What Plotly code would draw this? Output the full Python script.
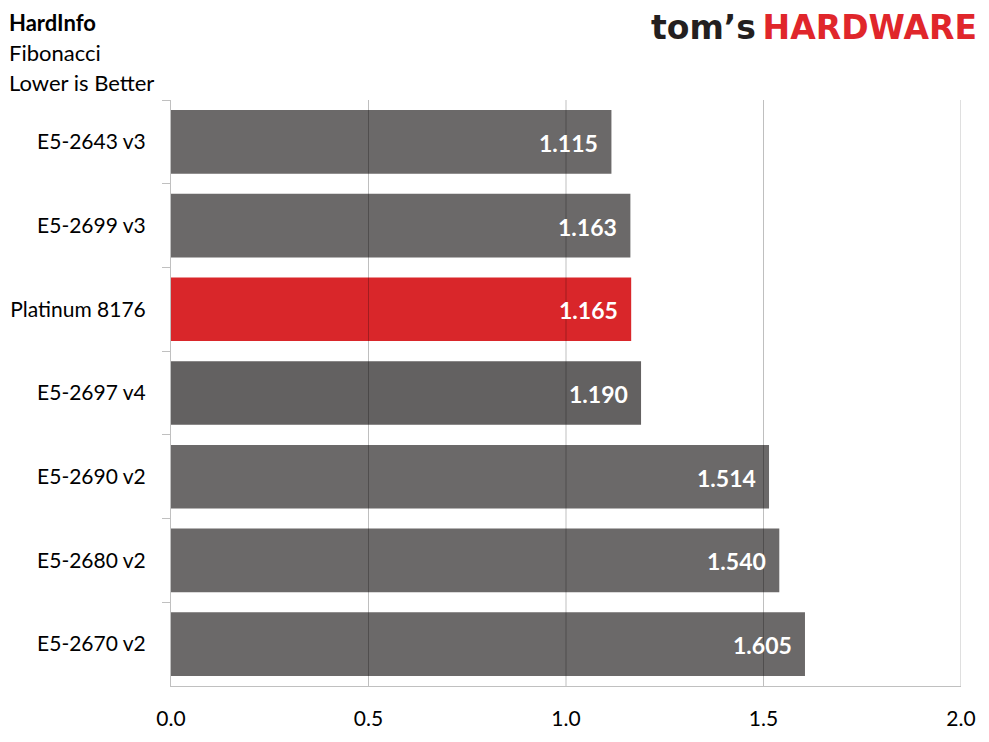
import plotly.graph_objects as go

categories = ["E5-2643 v3", "E5-2699 v3", "Platinum 8176", "E5-2697 v4",
              "E5-2690 v2", "E5-2680 v2", "E5-2670 v2"]
values = [1.115, 1.163, 1.165, 1.190, 1.514, 1.540, 1.605]
bar_colors = ["#6b6969", "#6b6969", "#d9262a", "#636161",
              "#6b6969", "#6b6969", "#6b6969"]
x_ticks = [0.0, 0.5, 1.0, 1.5, 2.0]
x_tick_labels = ["0.0", "0.5", "1.0", "1.5", "2.0"]

FONT = "Lato, 'Open Sans', sans-serif"

# page body has an 8px margin, so the figure is shifted by 8px
W, H = 981, 734
L, T, R, B = 163, 92, 28, 56
PW, PH = W - L - R, H - T - B

fig = go.Figure()
fig.add_trace(go.Bar(
    y=categories, x=values, orientation="h",
    marker=dict(color=bar_colors, line=dict(width=0)),
    hoverinfo="skip",
))

# value labels inside bar end
for c, v in zip(categories, values):
    fig.add_annotation(x=v, y=c, xref="x", yref="y", text="<b>%.3f</b>" % v,
                       showarrow=False, xanchor="right", xshift=-11, yshift=-1,
                       font=dict(family=FONT, size=23, color="white"))

# gridlines drawn above the bars
for t in x_ticks[1:]:
    fig.add_shape(type="line", xref="x", yref="paper", x0=t, x1=t, y0=0, y1=1,
                  line=dict(color="rgba(0,0,0,0.25)", width=1), layer="above")

fig.update_layout(
    width=W, height=H,
    margin=dict(l=L, r=R, t=T, b=B, autoexpand=False),
    paper_bgcolor="white", plot_bgcolor="white",
    showlegend=False, bargap=0.24,
    font=dict(family=FONT, size=21, color="#000000"),
    xaxis=dict(range=[0, 2.0], tickvals=x_ticks, ticktext=x_tick_labels,
               showgrid=False, zeroline=False, showline=True,
               linecolor="#c0c0c0", linewidth=1, ticks="",
               ticklabelstandoff=14, tickfont=dict(size=21, color="#000")),
    yaxis=dict(autorange="reversed", type="category", showgrid=False,
               showline=True, linecolor="#c0c0c0", linewidth=1,
               ticks="outside", ticklen=8, tickcolor="#c0c0c0",
               tickson="boundaries", ticklabelstandoff=20,
               tickfont=dict(size=21, color="#000")),
)

def px_x(px):
    return (px - 8 - L) / PW

def px_y(py):
    return 1 - (py - 8 - T) / PH

fig.add_annotation(xref="paper", yref="paper", x=px_x(7), y=px_y(22),
                   xanchor="left", yanchor="middle", showarrow=False,
                   text="<b>HardInfo</b>", font=dict(family=FONT, size=22, color="#000"))
fig.add_annotation(xref="paper", yref="paper", x=px_x(7), y=px_y(52),
                   xanchor="left", yanchor="middle", showarrow=False,
                   text="Fibonacci", font=dict(family=FONT, size=22, color="#000"))
fig.add_annotation(xref="paper", yref="paper", x=px_x(7), y=px_y(83),
                   xanchor="left", yanchor="middle", showarrow=False,
                   text="Lower is Better", font=dict(family=FONT, size=22, color="#000"))

fig.add_annotation(xref="paper", yref="paper", x=px_x(979), y=px_y(28),
                   xanchor="right", yanchor="middle", showarrow=False,
                   text="<b><span style='color:#231f20'>tom’s</span>\u2009<span style='color:#e0262b'>HARDWARE</span></b>",
                   font=dict(family="DejaVu Sans", size=33))

fig.write_html("out.html")
